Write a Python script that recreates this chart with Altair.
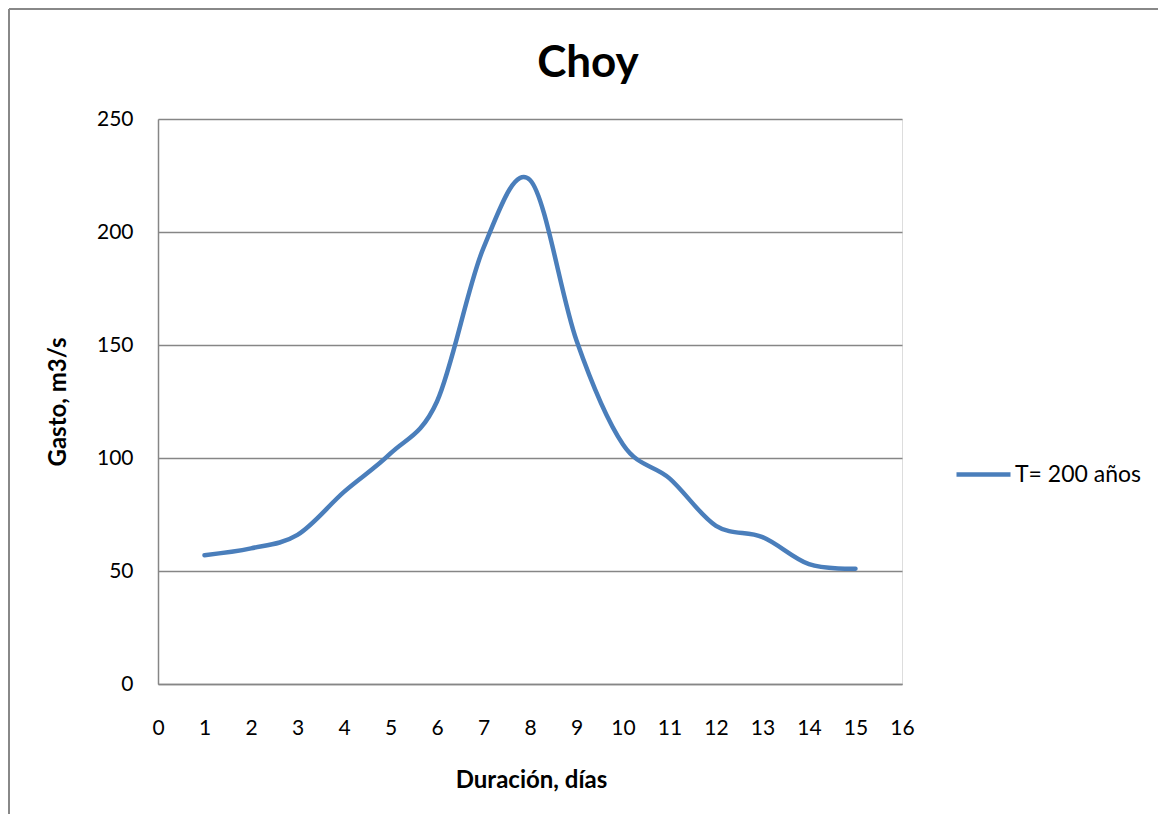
import altair as alt
import pandas as pd

dias = [1, 2, 3, 4, 5, 6, 7, 8, 9, 10, 11, 12, 13, 14, 15]
gasto = [57, 60, 66, 85, 102, 125, 193, 223, 152, 106, 91, 70, 65, 53, 51]
serie = ["T= 200 años"] * len(dias)

df = pd.DataFrame({"dias": dias, "gasto": gasto, "serie": serie})

FONT = "Lato"
W, H = 744, 565

line = alt.Chart(df).mark_line(
    interpolate="cardinal", tension=0, strokeWidth=4.5, strokeCap="round"
).encode(
    x=alt.X("dias:Q",
            scale=alt.Scale(domain=[0, 16], nice=False),
            axis=alt.Axis(values=list(range(0, 17)), title="Duración, días",
                          grid=False, ticks=False, domainColor="#868686",
                          domainWidth=1.5, labelFontSize=21, labelColor="black",
                          labelPadding=33, labelFlush=False, labelFont=FONT,
                          titleFont=FONT, titleFontSize=24, titleFontWeight="bold",
                          titleColor="black", titleX=373, titleY=96,
                          titleBaseline="middle")),
    y=alt.Y("gasto:Q",
            scale=alt.Scale(domain=[0, 250], nice=False),
            axis=alt.Axis(values=[0, 50, 100, 150, 200, 250], title="Gasto, m3/s",
                          grid=True, gridColor="#868686", gridWidth=1.5,
                          ticks=False, domainColor="#868686", domainWidth=1.5,
                          labelFontSize=21, labelColor="black", labelPadding=25,
                          labelFont=FONT, titleFont=FONT, titleFontSize=24,
                          titleFontWeight="bold", titleColor="black",
                          titleX=-100, titleY=H / 2, titleAngle=270,
                          titleAlign="center", titleBaseline="middle")),
    color=alt.Color("serie:N",
                    scale=alt.Scale(range=["#4a7ebb"]),
                    legend=alt.Legend(title=None, orient="none", legendX=796,
                                      legendY=326, symbolType="stroke",
                                      symbolSize=2916, symbolStrokeWidth=4.5,
                                      labelFontSize=23, labelFont=FONT,
                                      labelColor="black", labelOffset=2)),
)

base = alt.Chart(pd.DataFrame({"a": [0]}))
border_top = base.mark_rule(stroke="#888888", strokeWidth=2, clip=False).encode(
    x=alt.value(-149), x2=alt.value(1100), y=alt.value(-110)
)
border_left = base.mark_rule(stroke="#888888", strokeWidth=2, clip=False).encode(
    x=alt.value(-149), y=alt.value(-110), y2=alt.value(800)
)

chart = alt.layer(border_top, border_left, line).properties(
    width=W, height=H,
    title=alt.Title("Choy", fontSize=44, font=FONT, fontWeight="bold",
                    color="black", anchor="middle", frame="group",
                    baseline="middle", dx=58, offset=-100),
    autosize=alt.AutoSizeParams(type="none"),
    padding={"left": 150, "top": 111, "right": 256, "bottom": 130},
).configure_view(stroke="transparent", strokeWidth=0).configure(background="white")

chart.save("out.html", embed_options={"renderer": "svg", "actions": False})
